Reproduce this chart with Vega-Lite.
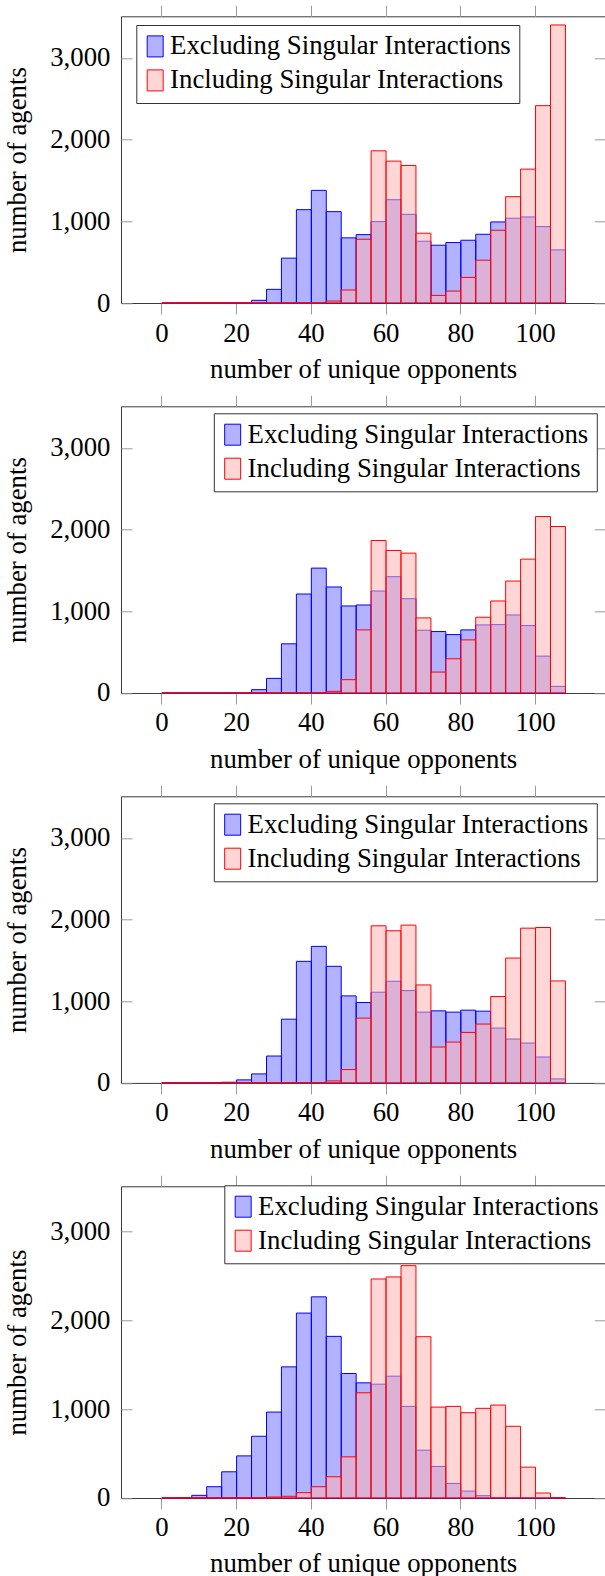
{
"$schema": "https://vega.github.io/schema/vega-lite/v6.json",
"autosize": {"type": "pad"},
"padding": {"left": 4, "top": 4.3, "right": 0, "bottom": 0},
"background": "#ffffff",
"bounds": "flush",
"spacing": 103,
"datasets": {
"p1": [
{"lo":0,"series":"Excluding Singular Interactions","count":0},{"lo":4,"series":"Excluding Singular Interactions","count":0},{"lo":8,"series":"Excluding Singular Interactions","count":0},{"lo":12,"series":"Excluding Singular Interactions","count":0},{"lo":16,"series":"Excluding Singular Interactions","count":0},{"lo":20,"series":"Excluding Singular Interactions","count":0},{"lo":24,"series":"Excluding Singular Interactions","count":33},{"lo":28,"series":"Excluding Singular Interactions","count":167},{"lo":32,"series":"Excluding Singular Interactions","count":549},{"lo":36,"series":"Excluding Singular Interactions","count":1142},{"lo":40,"series":"Excluding Singular Interactions","count":1378},{"lo":44,"series":"Excluding Singular Interactions","count":1118},{"lo":48,"series":"Excluding Singular Interactions","count":797},{"lo":52,"series":"Excluding Singular Interactions","count":837},{"lo":56,"series":"Excluding Singular Interactions","count":996},{"lo":60,"series":"Excluding Singular Interactions","count":1264},{"lo":64,"series":"Excluding Singular Interactions","count":1085},{"lo":68,"series":"Excluding Singular Interactions","count":756},{"lo":72,"series":"Excluding Singular Interactions","count":707},{"lo":76,"series":"Excluding Singular Interactions","count":740},{"lo":80,"series":"Excluding Singular Interactions","count":768},{"lo":84,"series":"Excluding Singular Interactions","count":841},{"lo":88,"series":"Excluding Singular Interactions","count":992},{"lo":92,"series":"Excluding Singular Interactions","count":1037},{"lo":96,"series":"Excluding Singular Interactions","count":1053},{"lo":100,"series":"Excluding Singular Interactions","count":935},{"lo":104,"series":"Excluding Singular Interactions","count":650},
{"lo":0,"series":"Including Singular Interactions","count":0},{"lo":4,"series":"Including Singular Interactions","count":0},{"lo":8,"series":"Including Singular Interactions","count":0},{"lo":12,"series":"Including Singular Interactions","count":0},{"lo":16,"series":"Including Singular Interactions","count":0},{"lo":20,"series":"Including Singular Interactions","count":0},{"lo":24,"series":"Including Singular Interactions","count":0},{"lo":28,"series":"Including Singular Interactions","count":0},{"lo":32,"series":"Including Singular Interactions","count":0},{"lo":36,"series":"Including Singular Interactions","count":0},{"lo":40,"series":"Including Singular Interactions","count":0},{"lo":44,"series":"Including Singular Interactions","count":24},{"lo":48,"series":"Including Singular Interactions","count":159},{"lo":52,"series":"Including Singular Interactions","count":780},{"lo":56,"series":"Including Singular Interactions","count":1862},{"lo":60,"series":"Including Singular Interactions","count":1736},{"lo":64,"series":"Including Singular Interactions","count":1683},{"lo":68,"series":"Including Singular Interactions","count":854},{"lo":72,"series":"Including Singular Interactions","count":93},{"lo":76,"series":"Including Singular Interactions","count":146},{"lo":80,"series":"Including Singular Interactions","count":313},{"lo":84,"series":"Including Singular Interactions","count":524},{"lo":88,"series":"Including Singular Interactions","count":890},{"lo":92,"series":"Including Singular Interactions","count":1301},{"lo":96,"series":"Including Singular Interactions","count":1638},{"lo":100,"series":"Including Singular Interactions","count":2415},{"lo":104,"series":"Including Singular Interactions","count":3402}
],
"p2": [
{"lo":0,"series":"Excluding Singular Interactions","count":0},{"lo":4,"series":"Excluding Singular Interactions","count":0},{"lo":8,"series":"Excluding Singular Interactions","count":0},{"lo":12,"series":"Excluding Singular Interactions","count":0},{"lo":16,"series":"Excluding Singular Interactions","count":0},{"lo":20,"series":"Excluding Singular Interactions","count":0},{"lo":24,"series":"Excluding Singular Interactions","count":41},{"lo":28,"series":"Excluding Singular Interactions","count":179},{"lo":32,"series":"Excluding Singular Interactions","count":602},{"lo":36,"series":"Excluding Singular Interactions","count":1211},{"lo":40,"series":"Excluding Singular Interactions","count":1528},{"lo":44,"series":"Excluding Singular Interactions","count":1297},{"lo":48,"series":"Excluding Singular Interactions","count":1065},{"lo":52,"series":"Excluding Singular Interactions","count":1077},{"lo":56,"series":"Excluding Singular Interactions","count":1248},{"lo":60,"series":"Excluding Singular Interactions","count":1423},{"lo":64,"series":"Excluding Singular Interactions","count":1154},{"lo":68,"series":"Excluding Singular Interactions","count":768},{"lo":72,"series":"Excluding Singular Interactions","count":752},{"lo":76,"series":"Excluding Singular Interactions","count":715},{"lo":80,"series":"Excluding Singular Interactions","count":772},{"lo":84,"series":"Excluding Singular Interactions","count":833},{"lo":88,"series":"Excluding Singular Interactions","count":837},{"lo":92,"series":"Excluding Singular Interactions","count":955},{"lo":96,"series":"Excluding Singular Interactions","count":825},{"lo":100,"series":"Excluding Singular Interactions","count":451},{"lo":104,"series":"Excluding Singular Interactions","count":81},
{"lo":0,"series":"Including Singular Interactions","count":0},{"lo":4,"series":"Including Singular Interactions","count":0},{"lo":8,"series":"Including Singular Interactions","count":0},{"lo":12,"series":"Including Singular Interactions","count":0},{"lo":16,"series":"Including Singular Interactions","count":0},{"lo":20,"series":"Including Singular Interactions","count":0},{"lo":24,"series":"Including Singular Interactions","count":0},{"lo":28,"series":"Including Singular Interactions","count":0},{"lo":32,"series":"Including Singular Interactions","count":0},{"lo":36,"series":"Including Singular Interactions","count":0},{"lo":40,"series":"Including Singular Interactions","count":0},{"lo":44,"series":"Including Singular Interactions","count":20},{"lo":48,"series":"Including Singular Interactions","count":163},{"lo":52,"series":"Including Singular Interactions","count":772},{"lo":56,"series":"Including Singular Interactions","count":1866},{"lo":60,"series":"Including Singular Interactions","count":1744},{"lo":64,"series":"Including Singular Interactions","count":1711},{"lo":68,"series":"Including Singular Interactions","count":919},{"lo":72,"series":"Including Singular Interactions","count":256},{"lo":76,"series":"Including Singular Interactions","count":419},{"lo":80,"series":"Including Singular Interactions","count":650},{"lo":84,"series":"Including Singular Interactions","count":927},{"lo":88,"series":"Including Singular Interactions","count":1126},{"lo":92,"series":"Including Singular Interactions","count":1370},{"lo":96,"series":"Including Singular Interactions","count":1638},{"lo":100,"series":"Including Singular Interactions","count":2159},{"lo":104,"series":"Including Singular Interactions","count":2037}
],
"p3": [
{"lo":0,"series":"Excluding Singular Interactions","count":0},{"lo":4,"series":"Excluding Singular Interactions","count":0},{"lo":8,"series":"Excluding Singular Interactions","count":0},{"lo":12,"series":"Excluding Singular Interactions","count":0},{"lo":16,"series":"Excluding Singular Interactions","count":8},{"lo":20,"series":"Excluding Singular Interactions","count":37},{"lo":24,"series":"Excluding Singular Interactions","count":110},{"lo":28,"series":"Excluding Singular Interactions","count":329},{"lo":32,"series":"Excluding Singular Interactions","count":780},{"lo":36,"series":"Excluding Singular Interactions","count":1488},{"lo":40,"series":"Excluding Singular Interactions","count":1671},{"lo":44,"series":"Excluding Singular Interactions","count":1427},{"lo":48,"series":"Excluding Singular Interactions","count":1065},{"lo":52,"series":"Excluding Singular Interactions","count":984},{"lo":56,"series":"Excluding Singular Interactions","count":1110},{"lo":60,"series":"Excluding Singular Interactions","count":1244},{"lo":64,"series":"Excluding Singular Interactions","count":1130},{"lo":68,"series":"Excluding Singular Interactions","count":866},{"lo":72,"series":"Excluding Singular Interactions","count":882},{"lo":76,"series":"Excluding Singular Interactions","count":866},{"lo":80,"series":"Excluding Singular Interactions","count":890},{"lo":84,"series":"Excluding Singular Interactions","count":878},{"lo":88,"series":"Excluding Singular Interactions","count":671},{"lo":92,"series":"Excluding Singular Interactions","count":537},{"lo":96,"series":"Excluding Singular Interactions","count":488},{"lo":100,"series":"Excluding Singular Interactions","count":317},{"lo":104,"series":"Excluding Singular Interactions","count":49},
{"lo":0,"series":"Including Singular Interactions","count":0},{"lo":4,"series":"Including Singular Interactions","count":0},{"lo":8,"series":"Including Singular Interactions","count":0},{"lo":12,"series":"Including Singular Interactions","count":0},{"lo":16,"series":"Including Singular Interactions","count":0},{"lo":20,"series":"Including Singular Interactions","count":0},{"lo":24,"series":"Including Singular Interactions","count":0},{"lo":28,"series":"Including Singular Interactions","count":0},{"lo":32,"series":"Including Singular Interactions","count":0},{"lo":36,"series":"Including Singular Interactions","count":0},{"lo":40,"series":"Including Singular Interactions","count":0},{"lo":44,"series":"Including Singular Interactions","count":24},{"lo":48,"series":"Including Singular Interactions","count":163},{"lo":52,"series":"Including Singular Interactions","count":793},{"lo":56,"series":"Including Singular Interactions","count":1923},{"lo":60,"series":"Including Singular Interactions","count":1862},{"lo":64,"series":"Including Singular Interactions","count":1931},{"lo":68,"series":"Including Singular Interactions","count":1199},{"lo":72,"series":"Including Singular Interactions","count":439},{"lo":76,"series":"Including Singular Interactions","count":500},{"lo":80,"series":"Including Singular Interactions","count":618},{"lo":84,"series":"Including Singular Interactions","count":720},{"lo":88,"series":"Including Singular Interactions","count":1057},{"lo":92,"series":"Including Singular Interactions","count":1528},{"lo":96,"series":"Including Singular Interactions","count":1894},{"lo":100,"series":"Including Singular Interactions","count":1902},{"lo":104,"series":"Including Singular Interactions","count":1248}
],
"p4": [
{"lo":0,"series":"Excluding Singular Interactions","count":0},{"lo":4,"series":"Excluding Singular Interactions","count":3},{"lo":8,"series":"Excluding Singular Interactions","count":30},{"lo":12,"series":"Excluding Singular Interactions","count":127},{"lo":16,"series":"Excluding Singular Interactions","count":295},{"lo":20,"series":"Excluding Singular Interactions","count":474},{"lo":24,"series":"Excluding Singular Interactions","count":695},{"lo":28,"series":"Excluding Singular Interactions","count":967},{"lo":32,"series":"Excluding Singular Interactions","count":1476},{"lo":36,"series":"Excluding Singular Interactions","count":2081},{"lo":40,"series":"Excluding Singular Interactions","count":2264},{"lo":44,"series":"Excluding Singular Interactions","count":1819},{"lo":48,"series":"Excluding Singular Interactions","count":1401},{"lo":52,"series":"Excluding Singular Interactions","count":1296},{"lo":56,"series":"Excluding Singular Interactions","count":1281},{"lo":60,"series":"Excluding Singular Interactions","count":1371},{"lo":64,"series":"Excluding Singular Interactions","count":1031},{"lo":68,"series":"Excluding Singular Interactions","count":538},{"lo":72,"series":"Excluding Singular Interactions","count":355},{"lo":76,"series":"Excluding Singular Interactions","count":164},{"lo":80,"series":"Excluding Singular Interactions","count":78},{"lo":84,"series":"Excluding Singular Interactions","count":26},{"lo":88,"series":"Excluding Singular Interactions","count":5},{"lo":92,"series":"Excluding Singular Interactions","count":2},{"lo":96,"series":"Excluding Singular Interactions","count":0},{"lo":100,"series":"Excluding Singular Interactions","count":0},{"lo":104,"series":"Excluding Singular Interactions","count":0},
{"lo":0,"series":"Including Singular Interactions","count":0},{"lo":4,"series":"Including Singular Interactions","count":0},{"lo":8,"series":"Including Singular Interactions","count":0},{"lo":12,"series":"Including Singular Interactions","count":0},{"lo":16,"series":"Including Singular Interactions","count":0},{"lo":20,"series":"Including Singular Interactions","count":0},{"lo":24,"series":"Including Singular Interactions","count":0},{"lo":28,"series":"Including Singular Interactions","count":11},{"lo":32,"series":"Including Singular Interactions","count":19},{"lo":36,"series":"Including Singular Interactions","count":60},{"lo":40,"series":"Including Singular Interactions","count":127},{"lo":44,"series":"Including Singular Interactions","count":239},{"lo":48,"series":"Including Singular Interactions","count":463},{"lo":52,"series":"Including Singular Interactions","count":1184},{"lo":56,"series":"Including Singular Interactions","count":2465},{"lo":60,"series":"Including Singular Interactions","count":2488},{"lo":64,"series":"Including Singular Interactions","count":2615},{"lo":68,"series":"Including Singular Interactions","count":1815},{"lo":72,"series":"Including Singular Interactions","count":1023},{"lo":76,"series":"Including Singular Interactions","count":1031},{"lo":80,"series":"Including Singular Interactions","count":960},{"lo":84,"series":"Including Singular Interactions","count":1009},{"lo":88,"series":"Including Singular Interactions","count":1046},{"lo":92,"series":"Including Singular Interactions","count":807},{"lo":96,"series":"Including Singular Interactions","count":347},{"lo":100,"series":"Including Singular Interactions","count":56},{"lo":104,"series":"Including Singular Interactions","count":0}
]
},
"vconcat": [
{
"width": 484.3, "height": 286.7,
"data": {"name": "p1"},
"layer": [
{"mark": {"type": "bar", "strokeWidth": 1, "binSpacing": 0},
"encoding": {
"x": {"field": "lo", "type": "quantitative", "bin": {"binned": true, "step": 4}, "scale": {"domain": [-10.8, 118.8], "nice": false, "zero": false},
 "axis": {"orient": "bottom", "values": [0,20,40,60,80,100], "format": "d", "tickSize": 11, "labelPadding": 6, "title": "number of unique opponents", "titlePadding": 10}},
"y": {"field": "count", "type": "quantitative", "scale": {"domain": [0, 3508], "nice": false},
 "axis": {"orient": "left", "values": [0,1000,2000,3000], "format": ",d", "tickSize": -11, "labelPadding": 22, "title": "number of agents", "titlePadding": 18}},
"y2": {"datum": 0},
"fill": {"field": "series", "type": "nominal", "scale": {"domain": ["Excluding Singular Interactions", "Including Singular Interactions"], "range": ["#0000ff", "#ffb2b2"]}, "legend": {"orient": "none", "legendX": 15.3, "legendY": 8.7, "encode": {"symbols": {"update": {"fillOpacity": {"signal": "datum.value === 'Excluding Singular Interactions' ? 0.3 : 0.53"}}}}}},
"stroke": {"field": "series", "type": "nominal", "scale": {"domain": ["Excluding Singular Interactions", "Including Singular Interactions"], "range": ["#0000ff", "#ff0000"]}, "legend": {"orient": "none", "legendX": 15.3, "legendY": 8.7}},
"fillOpacity": {"condition": {"test": "datum.series === 'Excluding Singular Interactions'", "value": 0.3}, "value": 0.53}
}},
{"mark": {"type": "bar", "opacity": 0, "binSpacing": 0},
"encoding": {
"x": {"field": "lo", "type": "quantitative", "bin": {"binned": true, "step": 4}, "axis": {"orient": "top", "values": [0,20,40,60,80,100], "tickSize": 11, "labels": false, "title": null}},
"y": {"field": "count", "type": "quantitative", "axis": {"orient": "right", "values": [0,1000,2000,3000], "tickSize": -11, "labels": false, "title": null}},
"y2": {"datum": 0}
}}
],
"resolve": {"axis": {"x": "independent", "y": "independent"}}
},
{
"width": 484.3, "height": 286.7,
"data": {"name": "p2"},
"layer": [
{"mark": {"type": "bar", "strokeWidth": 1, "binSpacing": 0},
"encoding": {
"x": {"field": "lo", "type": "quantitative", "bin": {"binned": true, "step": 4}, "scale": {"domain": [-10.8, 118.8], "nice": false, "zero": false},
 "axis": {"orient": "bottom", "values": [0,20,40,60,80,100], "format": "d", "tickSize": 11, "labelPadding": 6, "title": "number of unique opponents", "titlePadding": 10}},
"y": {"field": "count", "type": "quantitative", "scale": {"domain": [0, 3508], "nice": false},
 "axis": {"orient": "left", "values": [0,1000,2000,3000], "format": ",d", "tickSize": -11, "labelPadding": 22, "title": "number of agents", "titlePadding": 18}},
"y2": {"datum": 0},
"fill": {"field": "series", "type": "nominal", "scale": {"domain": ["Excluding Singular Interactions", "Including Singular Interactions"], "range": ["#0000ff", "#ffb2b2"]}, "legend": {"orient": "none", "legendX": 92.8, "legendY": 7, "encode": {"symbols": {"update": {"fillOpacity": {"signal": "datum.value === 'Excluding Singular Interactions' ? 0.3 : 0.53"}}}}}},
"stroke": {"field": "series", "type": "nominal", "scale": {"domain": ["Excluding Singular Interactions", "Including Singular Interactions"], "range": ["#0000ff", "#ff0000"]}, "legend": {"orient": "none", "legendX": 92.8, "legendY": 7}},
"fillOpacity": {"condition": {"test": "datum.series === 'Excluding Singular Interactions'", "value": 0.3}, "value": 0.53}
}},
{"mark": {"type": "bar", "opacity": 0, "binSpacing": 0},
"encoding": {
"x": {"field": "lo", "type": "quantitative", "bin": {"binned": true, "step": 4}, "axis": {"orient": "top", "values": [0,20,40,60,80,100], "tickSize": 11, "labels": false, "title": null}},
"y": {"field": "count", "type": "quantitative", "axis": {"orient": "right", "values": [0,1000,2000,3000], "tickSize": -11, "labels": false, "title": null}},
"y2": {"datum": 0}
}}
],
"resolve": {"axis": {"x": "independent", "y": "independent"}}
},
{
"width": 484.3, "height": 286.6,
"data": {"name": "p3"},
"layer": [
{"mark": {"type": "bar", "strokeWidth": 1, "binSpacing": 0},
"encoding": {
"x": {"field": "lo", "type": "quantitative", "bin": {"binned": true, "step": 4}, "scale": {"domain": [-10.8, 118.8], "nice": false, "zero": false},
 "axis": {"orient": "bottom", "values": [0,20,40,60,80,100], "format": "d", "tickSize": 11, "labelPadding": 6, "title": "number of unique opponents", "titlePadding": 10}},
"y": {"field": "count", "type": "quantitative", "scale": {"domain": [0, 3508], "nice": false},
 "axis": {"orient": "left", "values": [0,1000,2000,3000], "format": ",d", "tickSize": -11, "labelPadding": 22, "title": "number of agents", "titlePadding": 18}},
"y2": {"datum": 0},
"fill": {"field": "series", "type": "nominal", "scale": {"domain": ["Excluding Singular Interactions", "Including Singular Interactions"], "range": ["#0000ff", "#ffb2b2"]}, "legend": {"orient": "none", "legendX": 92.8, "legendY": 7, "encode": {"symbols": {"update": {"fillOpacity": {"signal": "datum.value === 'Excluding Singular Interactions' ? 0.3 : 0.53"}}}}}},
"stroke": {"field": "series", "type": "nominal", "scale": {"domain": ["Excluding Singular Interactions", "Including Singular Interactions"], "range": ["#0000ff", "#ff0000"]}, "legend": {"orient": "none", "legendX": 92.8, "legendY": 7}},
"fillOpacity": {"condition": {"test": "datum.series === 'Excluding Singular Interactions'", "value": 0.3}, "value": 0.53}
}},
{"mark": {"type": "bar", "opacity": 0, "binSpacing": 0},
"encoding": {
"x": {"field": "lo", "type": "quantitative", "bin": {"binned": true, "step": 4}, "axis": {"orient": "top", "values": [0,20,40,60,80,100], "tickSize": 11, "labels": false, "title": null}},
"y": {"field": "count", "type": "quantitative", "axis": {"orient": "right", "values": [0,1000,2000,3000], "tickSize": -11, "labels": false, "title": null}},
"y2": {"datum": 0}
}}
],
"resolve": {"axis": {"x": "independent", "y": "independent"}}
},
{
"width": 484.3, "height": 311.7,
"data": {"name": "p4"},
"layer": [
{"mark": {"type": "bar", "strokeWidth": 1, "binSpacing": 0},
"encoding": {
"x": {"field": "lo", "type": "quantitative", "bin": {"binned": true, "step": 4}, "scale": {"domain": [-10.8, 118.8], "nice": false, "zero": false},
 "axis": {"orient": "bottom", "values": [0,20,40,60,80,100], "format": "d", "tickSize": 11, "labelPadding": 6, "title": "number of unique opponents", "titlePadding": 9}},
"y": {"field": "count", "type": "quantitative", "scale": {"domain": [0, 3508], "nice": false},
 "axis": {"orient": "left", "values": [0,1000,2000,3000], "format": ",d", "tickSize": -11, "labelPadding": 22, "title": "number of agents", "titlePadding": 18}},
"y2": {"datum": 0},
"fill": {"field": "series", "type": "nominal", "scale": {"domain": ["Excluding Singular Interactions", "Including Singular Interactions"], "range": ["#0000ff", "#ffb2b2"]}, "legend": {"orient": "none", "legendX": 103.3, "legendY": -1, "encode": {"symbols": {"update": {"fillOpacity": {"signal": "datum.value === 'Excluding Singular Interactions' ? 0.3 : 0.53"}}}}}},
"stroke": {"field": "series", "type": "nominal", "scale": {"domain": ["Excluding Singular Interactions", "Including Singular Interactions"], "range": ["#0000ff", "#ff0000"]}, "legend": {"orient": "none", "legendX": 103.3, "legendY": -1}},
"fillOpacity": {"condition": {"test": "datum.series === 'Excluding Singular Interactions'", "value": 0.3}, "value": 0.53}
}},
{"mark": {"type": "bar", "opacity": 0, "binSpacing": 0},
"encoding": {
"x": {"field": "lo", "type": "quantitative", "bin": {"binned": true, "step": 4}, "axis": {"orient": "top", "values": [0,20,40,60,80,100], "tickSize": 11, "labels": false, "title": null}},
"y": {"field": "count", "type": "quantitative", "axis": {"orient": "right", "values": [0,1000,2000,3000], "tickSize": -11, "labels": false, "title": null}},
"y2": {"datum": 0}
}}
],
"resolve": {"axis": {"x": "independent", "y": "independent"}}
}
],
"resolve": {"scale": {"fill": "independent", "stroke": "independent"}, "legend": {"fill": "independent", "stroke": "independent"}},
"config": {
"font": "Liberation Serif",
"view": {"stroke": "#3a3a3a", "strokeWidth": 1},
"axis": {"domain": false, "grid": false, "tickColor": "#999999", "tickWidth": 1, "labelFont": "Liberation Serif", "labelFontSize": 26.8, "labelColor": "#000000", "labelFlush": false, "labelOverlap": false, "titleFont": "Liberation Serif", "titleFontSize": 26.8, "titleFontWeight": "normal", "titleColor": "#000000"},
"legend": {"title": null, "direction": "vertical", "labelFont": "Liberation Serif", "labelFontSize": 26.8, "labelColor": "#000000", "labelLimit": 1000, "labelOffset": -1, "symbolType": "M-1,-1L0.52,-1L0.52,1L-1,1Z", "symbolSize": 441, "symbolStrokeWidth": 1, "padding": 8, "rowPadding": 6, "strokeColor": "#333333", "fillColor": "#ffffff", "symbolOpacity": 1}
}
}
